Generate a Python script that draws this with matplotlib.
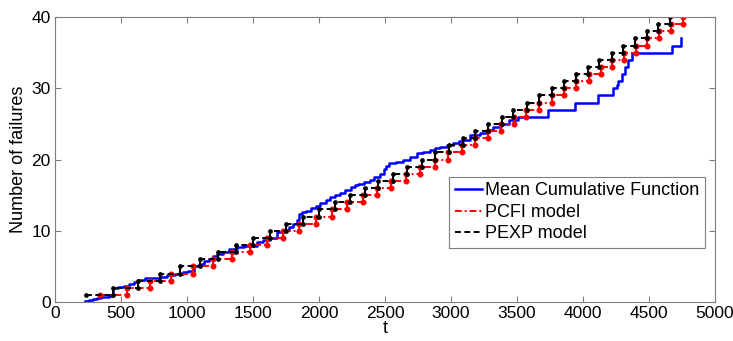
import numpy as np
import matplotlib.pyplot as plt

plt.rcParams['font.family'] = ['Liberation Sans', 'DejaVu Sans']
plt.rcParams['font.size'] = 12

# failure counts 1..40 and the step times of the two models
n_fail = np.arange(1, 41)
pexp_t = [235, 442, 631, 795, 947, 1098, 1237, 1371, 1503, 1629,
          1752, 1877, 2000, 2121, 2235, 2348, 2449, 2563, 2664, 2778,
          2879, 2987, 3088, 3182, 3283, 3384, 3472, 3573, 3669, 3763,
          3856, 3947, 4040, 4124, 4217, 4305, 4394, 4482, 4571, 4659]
pcfi_t = [341, 543, 720, 876, 1048, 1195, 1338, 1477, 1604, 1730,
          1852, 1975, 2098, 2215, 2330, 2443, 2548, 2660, 2762, 2875,
          2978, 3085, 3185, 3280, 3380, 3478, 3570, 3668, 3762, 3858,
          3950, 4042, 4135, 4220, 4312, 4400, 4488, 4578, 4665, 4760]

# mean cumulative function (observed)
mcf_t = [230, 260, 290, 320, 350, 380, 410, 442, 480, 520, 560, 600, 631, 680,
         730, 795, 850, 910, 972, 1010, 1050, 1090, 1130, 1170, 1200, 1225,
         1270, 1320, 1376, 1430, 1480, 1530, 1578, 1630, 1680, 1730, 1770,
         1800, 1831, 1850, 1870, 1900, 1940, 1980, 2010, 2050, 2083, 2120,
         2160, 2197, 2240, 2270, 2298, 2340, 2386, 2420, 2462, 2490, 2510,
         2530, 2580, 2639, 2690, 2740, 2790, 2841, 2880, 2917, 2970, 3017,
         3060, 3093, 3144, 3220, 3270, 3320, 3380, 3440, 3505, 3737, 3939,
         4116, 4230, 4255, 4268, 4293, 4318, 4343, 4369, 4672, 4740]
mcf_y = [0.15, 0.3, 0.45, 0.55, 0.65, 0.75, 0.85, 1.9, 2.1, 2.3, 2.5, 2.75, 3.1, 3.3,
         3.4, 3.55, 3.8, 4.0, 4.25, 4.4, 5.0, 5.3, 5.7, 6.1, 6.4, 6.7,
         7.0, 7.4, 7.7, 7.8, 7.9, 8.4, 8.7, 9.0, 9.8, 10.1, 10.5,
         11.0, 11.5, 12.3, 12.6, 12.8, 13.2, 13.5, 13.9, 14.3, 14.8, 15.0,
         15.3, 15.7, 16.1, 16.4, 16.6, 16.9, 17.1, 17.5, 18.0, 18.6, 19.1,
         19.5, 19.7, 19.9, 20.4, 20.9, 21.1, 21.3, 21.6, 21.8, 22.1, 22.3,
         22.6, 22.8, 23.4, 23.7, 24.2, 24.6, 25.0, 25.5, 26.0, 27.0, 28.0,
         29.0, 30.0, 30.5, 31.0, 32.0, 33.0, 34.0, 35.0, 36.0, 37.0]


def stairs(x, y):
    # matlab-style stairs vertices: (x1,y1),(x2,y1),(x2,y2),...
    x = np.asarray(x, float)
    y = np.asarray(y, float)
    xs = np.repeat(x, 2)[1:]
    ys = np.repeat(y, 2)[:-1]
    return xs, ys


def model(ax, t, color, ls, ms, label):
    xs, ys = stairs(t, n_fail)
    ax.plot(xs, ys, color=color, lw=1.4, ls=ls, label=label)
    # risers drawn solid so they stay visible at this size
    ax.vlines(t[1:], n_fail[:-1], n_fail[1:], color=color, lw=1.4)
    ax.plot(xs, ys, ls='none', marker='o', ms=ms, color=color)


fig = plt.figure(figsize=(7.33, 3.41), dpi=100)
ax = fig.add_axes([55 / 733, 39 / 341, 660 / 733, 285 / 341])

ax.plot(mcf_t, mcf_y, drawstyle='steps-post', color='#0000ff', lw=1.8,
        label='Mean Cumulative Function')
model(ax, pcfi_t, '#ff0000', (0, (3.5, 1.5, 1, 1.5)), 3.3, 'PCFI model')
model(ax, pexp_t, 'black', (0, (3, 1.8)), 2.4, 'PEXP model')

ax.set_xlim(0, 5000)
ax.set_ylim(0, 40)
ax.set_xticks(np.arange(0, 5001, 500))
ax.set_yticks(np.arange(0, 41, 10))
ax.tick_params(direction='in', top=True, right=True, length=4, color='#7f7f7f',
               labelsize=12.5, pad=3)
for s in ax.spines.values():
    s.set_color('#7f7f7f')
ax.set_xlabel('t', labelpad=-1, fontsize=13)
ax.set_ylabel('Number of failures', labelpad=3, fontsize=13)

leg = ax.legend(loc='lower right', bbox_to_anchor=(0.985, 0.19), fancybox=False,
                framealpha=1, edgecolor='#7f7f7f', handlelength=1.5,
                fontsize=13, borderpad=0.3, labelspacing=0.25, handletextpad=0.2,
                borderaxespad=0)
leg.get_frame().set_linewidth(0.8)

fig.savefig('out.png', dpi=100)
